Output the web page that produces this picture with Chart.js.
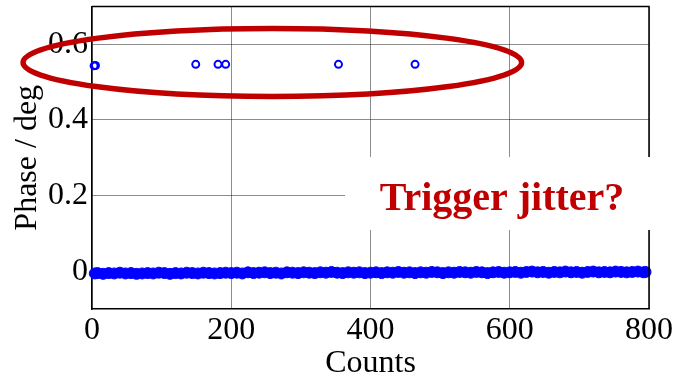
<!DOCTYPE html>
<html>
<head>
<meta charset="utf-8">
<script src="https://cdn.jsdelivr.net/npm/chart.js@4/dist/chart.umd.min.js"></script>
<style>
  html, body { margin: 0; padding: 0; background: #fff; }
  #wrap { width: 675px; height: 375px; position: relative; }
</style>
</head>
<body>
<div id="wrap"><canvas id="phase"></canvas></div>
<script>
// Данные ----------------------------------------------------------------------
var xTicks = [0, 200, 400, 600, 800];
var yTicks = [0, 0.2, 0.4, 0.6];

// основная полоса около нуля
var bandCounts = [
    4, 8, 16, 24, 32, 40, 48, 56, 64, 72, 80, 88, 96, 104, 112, 120, 128, 136, 144, 152, 160, 168, 176, 184, 192,
    200, 208, 216, 224, 232, 240, 248, 256, 264, 272, 280, 288, 296, 304, 312, 320, 328, 336, 344, 352, 360, 368, 376, 384, 392,
    400, 408, 416, 424, 432, 440, 448, 456, 464, 472, 480, 488, 496, 504, 512, 520, 528, 536, 544, 552, 560, 568, 576, 584, 592,
    600, 608, 616, 624, 632, 640, 648, 656, 664, 672, 680, 688, 696, 704, 712, 720, 728, 736, 744, 752, 760, 768, 776, 784, 792,
    795
];
var bandPhase = [
    -0.006, -0.005, -0.007, -0.005, -0.006, -0.004, -0.006, -0.005, -0.007, -0.006, -0.005, -0.006, -0.004, -0.005, -0.007, -0.005, -0.006, -0.004, -0.005, -0.006, -0.004, -0.005, -0.006, -0.005, -0.004,
    -0.005, -0.004, -0.006, -0.003, -0.005, -0.004, -0.003, -0.005, -0.004, -0.006, -0.003, -0.004, -0.005, -0.003, -0.004, -0.005, -0.003, -0.004, -0.002, -0.004, -0.005, -0.003, -0.004, -0.003, -0.005,
    -0.004, -0.003, -0.005, -0.003, -0.004, -0.002, -0.004, -0.003, -0.005, -0.003, -0.004, -0.002, -0.003, -0.005, -0.003, -0.004, -0.002, -0.003, -0.004, -0.002, -0.003, -0.005, -0.003, -0.002, -0.004,
    -0.003, -0.002, -0.004, -0.002, -0.001, -0.003, -0.002, -0.004, -0.002, -0.003, -0.001, -0.003, -0.002, -0.004, -0.002, -0.001, -0.003, -0.002, -0.003, -0.001, -0.002, -0.003, -0.002, -0.001, -0.003,
    -0.002
];

// выбросы (trigger jitter)
var jitterCounts = [3, 5, 149, 181, 192, 354, 464];
var jitterPhase = [0.543, 0.544, 0.547, 0.547, 0.547, 0.547, 0.547];

var noteText = 'Trigger jitter?';
var red = '#C00000';
var blue = '#0000FF';

function toPoints(xs, ys) {
    return xs.map(function (x, i) { return { x: x, y: ys[i] }; });
}

Chart.defaults.font.family = '"Liberation Serif", "Times New Roman", serif';
Chart.defaults.color = '#000';

// Эллипс, рамка и надпись ------------------------------------------------------
var annotations = {
    id: 'annotations',
    afterDatasetsDraw: function (chart) {
        var ctx = chart.ctx, xs = chart.scales.x, ys = chart.scales.y;
        var cx = xs.getPixelForValue(259), cy = ys.getPixelForValue(0.552);
        var rx = xs.getPixelForValue(259 + 358) - cx;
        var ry = ys.getPixelForValue(0.552 - 0.09) - cy;
        ctx.save();
        ctx.strokeStyle = red;
        ctx.lineWidth = 5.5;
        ctx.beginPath();
        ctx.ellipse(cx, cy, rx, ry, 0, 0, Math.PI * 2);
        ctx.stroke();
        ctx.restore();
    },
    afterDraw: function (chart) {
        var ctx = chart.ctx, a = chart.chartArea;
        ctx.save();
        ctx.strokeStyle = '#000';
        ctx.lineWidth = 1.5;
        ctx.beginPath();
        ctx.moveTo(a.left, a.top);
        ctx.lineTo(a.right, a.top);
        ctx.lineTo(a.right, a.bottom);
        ctx.stroke();

        // белая подложка под надписью
        ctx.fillStyle = '#fff';
        ctx.fillRect(345, 157, 330, 73);
        ctx.fillStyle = red;
        ctx.font = 'bold 40px "Liberation Serif", serif';
        ctx.textAlign = 'center';
        ctx.textBaseline = 'alphabetic';
        ctx.fillText(noteText, 502, 210);
        ctx.restore();
    }
};

var ctx = document.getElementById('phase').getContext('2d');
var chart = new Chart(ctx, {
    type: 'scatter',
    data: {
        datasets: [
            {
                data: toPoints(bandCounts, bandPhase),
                backgroundColor: blue,
                borderColor: blue,
                borderWidth: 1,
                pointRadius: 5.5,
                pointHoverRadius: 5.5,
                clip: false
            },
            {
                data: toPoints(jitterCounts, jitterPhase),
                backgroundColor: 'rgba(0,0,0,0)',
                borderColor: blue,
                borderWidth: 2,
                pointRadius: 3.5,
                pointHoverRadius: 3.5,
                clip: false
            }
        ]
    },
    options: {
        responsive: true,
        maintainAspectRatio: false,
        animation: false,
        events: [],
        layout: { padding: { top: 6, right: 26, left: 0, bottom: 0 } },
        plugins: {
            legend: { display: false },
            tooltip: { enabled: false }
        },
        scales: {
            x: {
                type: 'linear',
                min: 0,
                max: 800,
                afterFit: function (s) { s.height = 66; s.paddingLeft = 0; s.paddingRight = 0; },
                afterBuildTicks: function (s) { s.ticks = xTicks.map(function (v) { return { value: v }; }); },
                grid: { color: 'rgba(0,0,0,0.45)', lineWidth: 1, drawTicks: false },
                border: { color: '#000', width: 1.5 },
                ticks: { font: { size: 32 }, padding: 2, maxRotation: 0 },
                title: { display: true, text: 'Counts', font: { size: 32 }, padding: { top: 0, bottom: -8 } }
            },
            y: {
                min: -0.1,
                max: 0.7,
                afterFit: function (s) { s.width = 92; s.paddingTop = 0; s.paddingBottom = 0; },
                afterBuildTicks: function (s) { s.ticks = yTicks.map(function (v) { return { value: v }; }); },
                grid: { color: 'rgba(0,0,0,0.45)', lineWidth: 1, drawTicks: false },
                border: { color: '#000', width: 1.5 },
                ticks: {
                    font: { size: 32 },
                    padding: 4,
                    callback: function (v) { return v === 0 ? '0' : v.toFixed(1); }
                },
                title: { display: true, text: 'Phase / deg', font: { size: 32 }, padding: { top: 8, bottom: 0 } }
            }
        }
    },
    plugins: [annotations]
});
</script>
</body>
</html>
